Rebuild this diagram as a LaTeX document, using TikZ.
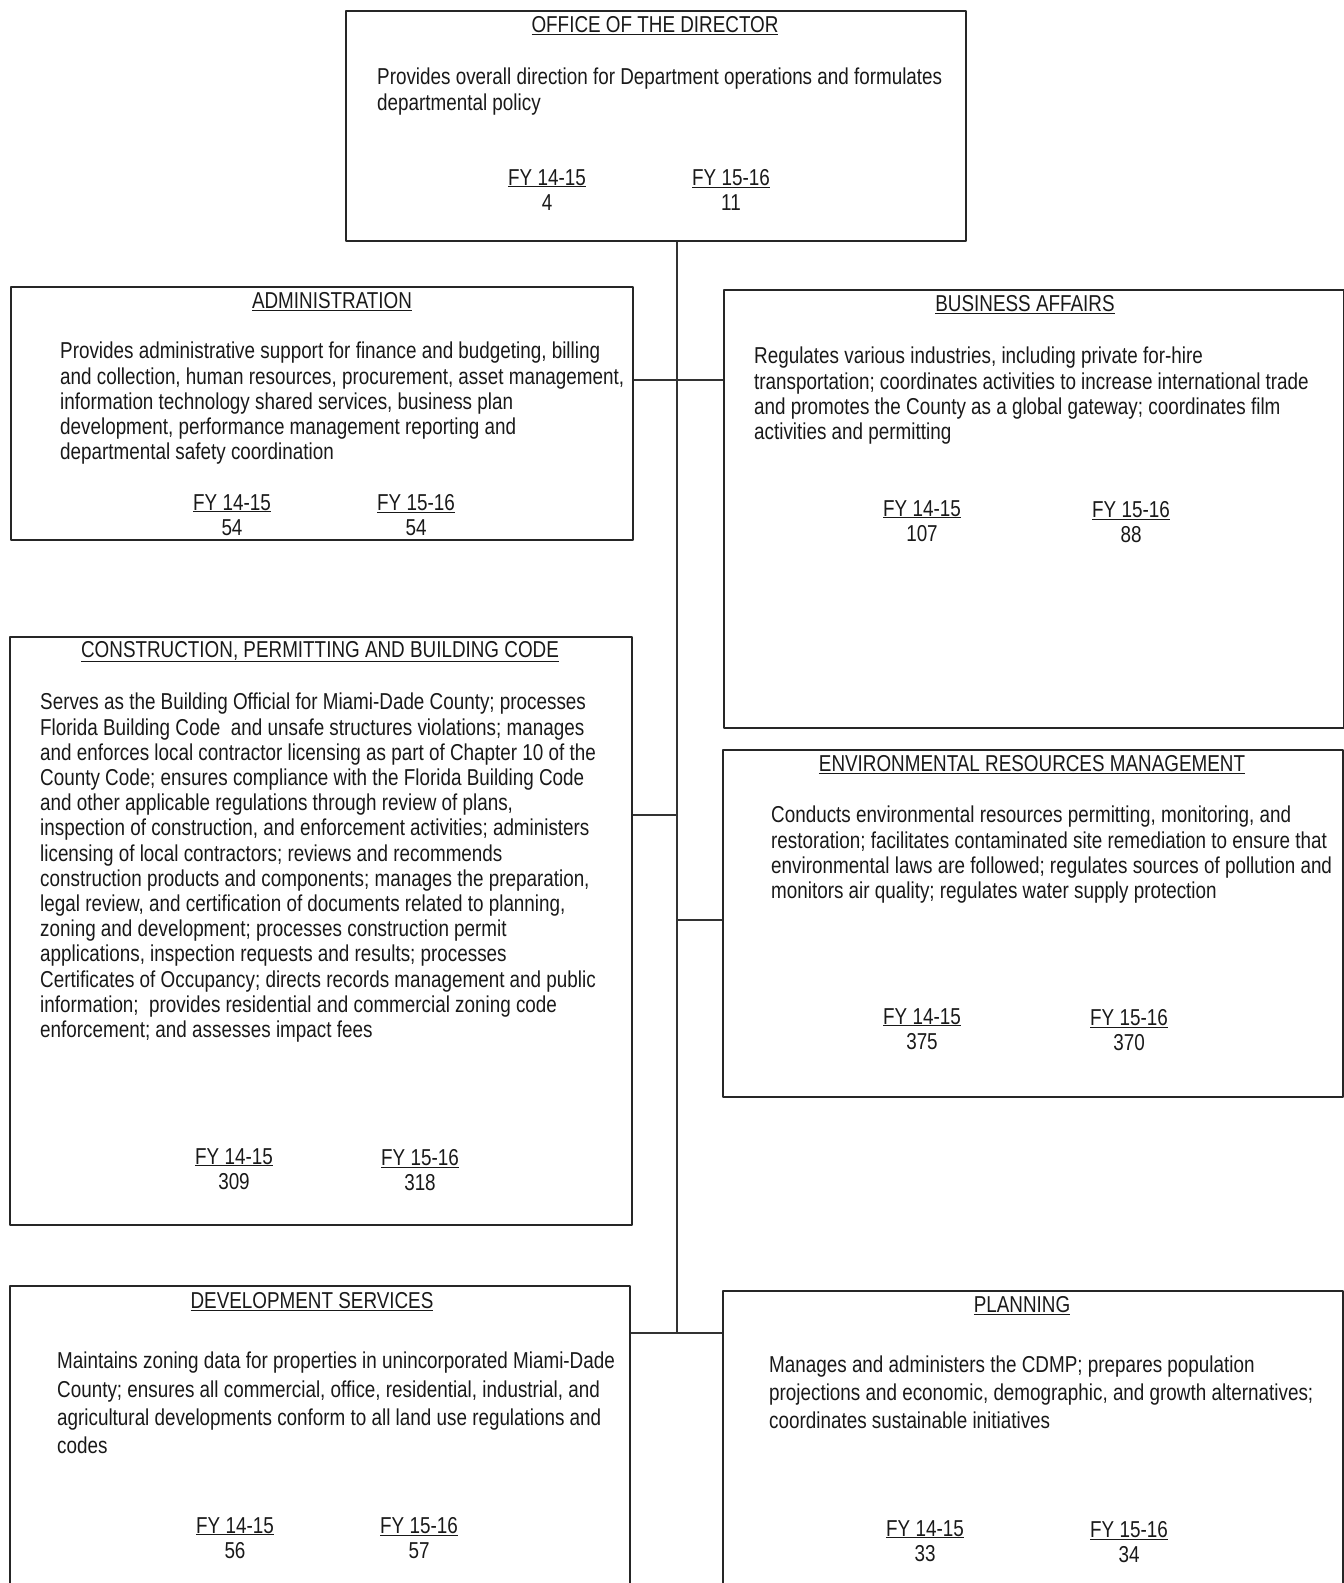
\documentclass[tikz,border=0pt]{standalone}
\usepackage{fontspec}
\setmainfont[FakeStretch=0.82]{Liberation Sans}
\tikzset{
  unitbox/.style={draw=black!85, line width=1.6pt, anchor=north west, inner sep=0pt},
  unithead/.style={anchor=north, inner sep=0pt},
  unittext/.style={anchor=north west, inner sep=0pt, align=left},
  fycount/.style={anchor=north, inner sep=0pt, align=center},
  link/.style={draw=black!80, line width=1.1pt}
}
\begin{document}
\begin{tikzpicture}[x=1pt, y=-1pt, font=\fontsize{23}{25.2}\selectfont, color=black!90, line join=round]
\useasboundingbox (0,0) rectangle (1344,1583);
\foreach \nm/\xa/\ya/\xb/\yb in {dir/345/10/965/240, adm/10/286/632/539, bus/723/289/1343/727, cpb/9/636/631/1224, erm/722/749/1342/1096, dev/9/1285/629/1620, pln/722/1290/1342/1620}
  \node[unitbox, minimum width={(\xb-\xa)*1pt}, minimum height={(\yb-\ya)*1pt}] (\nm) at (\xa,\ya) {};
\foreach \nm/\x/\y/\t in {dir/655/16/OFFICE OF THE DIRECTOR, adm/332/292/ADMINISTRATION, bus/1025/295/BUSINESS AFFAIRS, cpb/320/641/{CONSTRUCTION, PERMITTING AND BUILDING CODE}, erm/1032/755/ENVIRONMENTAL RESOURCES MANAGEMENT, dev/312/1292/DEVELOPMENT SERVICES, pln/1022/1296/PLANNING}
  \node[unithead] (\nm-head) at (\x,\y) {\underline{\t}};
\node[unittext] (dir-txt) at (377,68) {Provides overall direction for Department operations and formulates\\departmental policy};
\node[unittext] (adm-txt) at (60,342) {Provides administrative support for finance and budgeting, billing\\and collection, human resources, procurement, asset management,\\information technology shared services, business plan\\development, performance management reporting and\\departmental safety coordination};
\node[unittext] (bus-txt) at (754,347) {Regulates various industries, including private for-hire\\transportation; coordinates activities to increase international trade\\and promotes the County as a global gateway; coordinates film\\activities and permitting};
\node[unittext] (cpb-txt) at (40,693) {Serves as the Building Official for Miami-Dade County; processes\\Florida Building Code~ and unsafe structures violations; manages\\and enforces local contractor licensing as part of Chapter 10 of the\\County Code; ensures compliance with the Florida Building Code\\and other applicable regulations through review of plans,\\inspection of construction, and enforcement activities; administers\\licensing of local contractors; reviews and recommends\\construction products and components; manages the preparation,\\legal review, and certification of documents related to planning,\\zoning and development; processes construction permit\\applications, inspection requests and results; processes\\Certificates of Occupancy; directs records management and public\\information;~ provides residential and commercial zoning code\\enforcement; and assesses impact fees};
\node[unittext] (erm-txt) at (771,806) {Conducts environmental resources permitting, monitoring, and\\restoration; facilitates contaminated site remediation to ensure that\\environmental laws are followed; regulates sources of pollution and\\monitors air quality; regulates water supply protection};
\node[unittext, font=\fontsize{23}{28.3}\selectfont] (dev-txt) at (57,1352) {Maintains zoning data for properties in unincorporated Miami-Dade\\County; ensures all commercial, office, residential, industrial, and\\agricultural developments conform to all land use regulations and\\codes};
\node[unittext, font=\fontsize{23}{27.8}\selectfont] (pln-txt) at (769,1356) {Manages and administers the CDMP; prepares population\\projections and economic, demographic, and growth alternatives;\\coordinates sustainable initiatives};
\foreach \nm/\x/\y/\yr/\n in {dir-a/547/169/14-15/4, dir-b/731/169/15-16/11, adm-a/232/494/14-15/54, adm-b/416/494/15-16/54, bus-a/922/500/14-15/107, bus-b/1131/501/15-16/88, cpb-a/234/1148/14-15/309, cpb-b/420/1149/15-16/318, erm-a/922/1008/14-15/375, erm-b/1129/1009/15-16/370, dev-a/235/1517/14-15/56, dev-b/419/1517/15-16/57, pln-a/925/1520/14-15/33, pln-b/1129/1521/15-16/34}
  \node[fycount] (\nm) at (\x,\y) {\underline{FY \yr}\\\n};
\coordinate (j1) at (677,380);
\coordinate (j2) at (677,815);
\coordinate (j3) at (677,920);
\coordinate (j4) at (677,1333);
\draw[link] (dir.south -| j1) -- (j4);
\draw[link] (adm.east |- j1) -- (bus.west |- j1);
\draw[link] (cpb.east |- j2) -- (j2);
\draw[link] (j3) -- (erm.west |- j3);
\draw[link] (dev.east |- j4) -- (pln.west |- j4);
\end{tikzpicture}
\end{document}
